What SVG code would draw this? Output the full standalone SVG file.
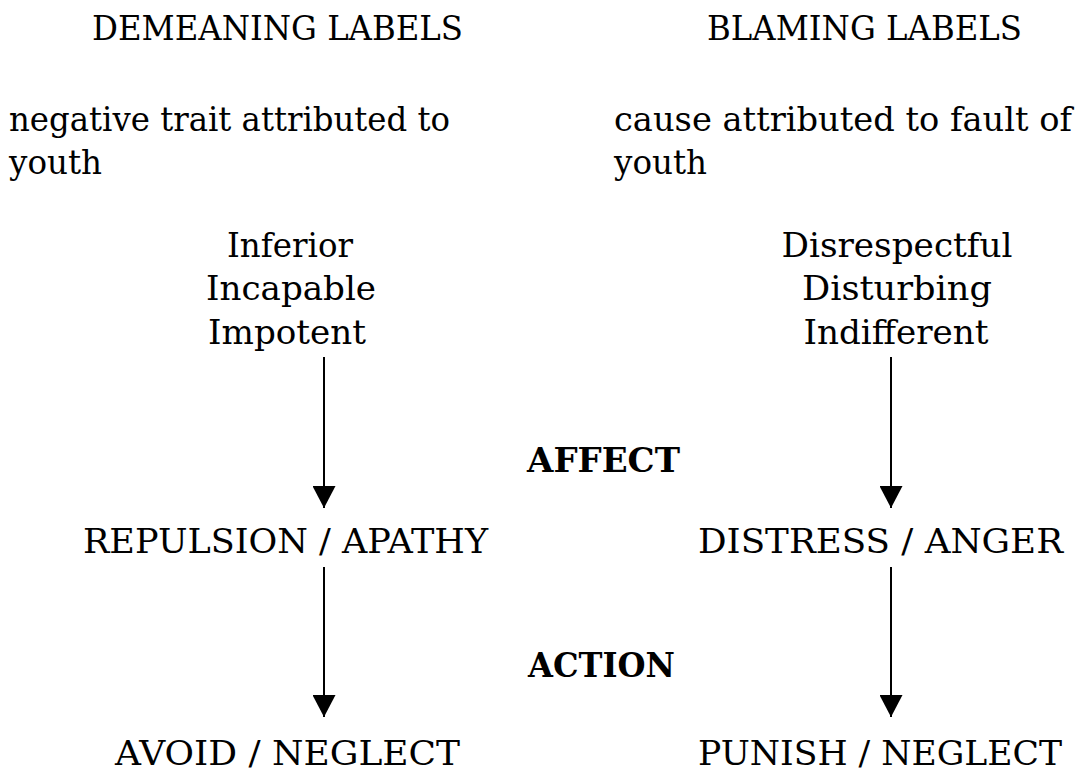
<svg xmlns="http://www.w3.org/2000/svg" width="1091" height="774" viewBox="0 0 1091 774">
<style>
text{font-family:"DejaVu Serif","Liberation Serif",serif;font-size:33px;fill:#000}
.b{font-weight:bold}
.c{text-anchor:middle}
.conn line{stroke:#000;stroke-width:2}
</style>
<defs>
<marker id="ah" markerUnits="userSpaceOnUse" markerWidth="23" markerHeight="23" viewBox="0 -11.5 22 23" refX="22" refY="0" orient="auto">
<path d="M0,-11.5 L22,0 L0,11.5 Z" fill="#000"/>
</marker>
</defs>
<rect width="1091" height="774" fill="#fff"/>
<g id="demeaning-title"><text x="92" y="40" textLength="371" lengthAdjust="spacingAndGlyphs">DEMEANING LABELS</text></g>
<g id="blaming-title"><text x="707" y="40" textLength="315" lengthAdjust="spacingAndGlyphs">BLAMING LABELS</text></g>
<g id="demeaning-desc"><text x="9" y="131" textLength="441" lengthAdjust="spacingAndGlyphs">negative trait attributed to</text><text x="9" y="174" textLength="93" lengthAdjust="spacingAndGlyphs">youth</text></g>
<g id="blaming-desc"><text x="614" y="131" textLength="458" lengthAdjust="spacingAndGlyphs">cause attributed to fault of</text><text x="614" y="174" textLength="93" lengthAdjust="spacingAndGlyphs">youth</text></g>
<g id="demeaning-traits"><text class="c" x="290" y="257" textLength="126" lengthAdjust="spacingAndGlyphs">Inferior</text><text class="c" x="291" y="300" textLength="170" lengthAdjust="spacingAndGlyphs">Incapable</text><text class="c" x="287" y="344" textLength="158" lengthAdjust="spacingAndGlyphs">Impotent</text></g>
<g id="blaming-traits"><text class="c" x="897" y="257" textLength="231" lengthAdjust="spacingAndGlyphs">Disrespectful</text><text class="c" x="897" y="300" textLength="190" lengthAdjust="spacingAndGlyphs">Disturbing</text><text class="c" x="896" y="344" textLength="185" lengthAdjust="spacingAndGlyphs">Indifferent</text></g>
<g id="affect"><text class="b" x="527" y="472" textLength="153" lengthAdjust="spacingAndGlyphs">AFFECT</text></g>
<g id="repulsion"><text x="83" y="553" textLength="405" lengthAdjust="spacingAndGlyphs">REPULSION / APATHY</text></g>
<g id="distress"><text x="698" y="553" textLength="365" lengthAdjust="spacingAndGlyphs">DISTRESS / ANGER</text></g>
<g id="action"><text class="b" x="528" y="677" textLength="147" lengthAdjust="spacingAndGlyphs">ACTION</text></g>
<g id="avoid"><text x="115" y="765" textLength="345" lengthAdjust="spacingAndGlyphs">AVOID / NEGLECT</text></g>
<g id="punish"><text x="698" y="765" textLength="364" lengthAdjust="spacingAndGlyphs">PUNISH / NEGLECT</text></g>
<g id="connectors" class="conn">
<line x1="324" y1="357" x2="324" y2="508" marker-end="url(#ah)"/>
<line x1="891" y1="357" x2="891" y2="508" marker-end="url(#ah)"/>
<line x1="324" y1="567" x2="324" y2="717" marker-end="url(#ah)"/>
<line x1="891" y1="567" x2="891" y2="717" marker-end="url(#ah)"/>
</g>
</svg>
